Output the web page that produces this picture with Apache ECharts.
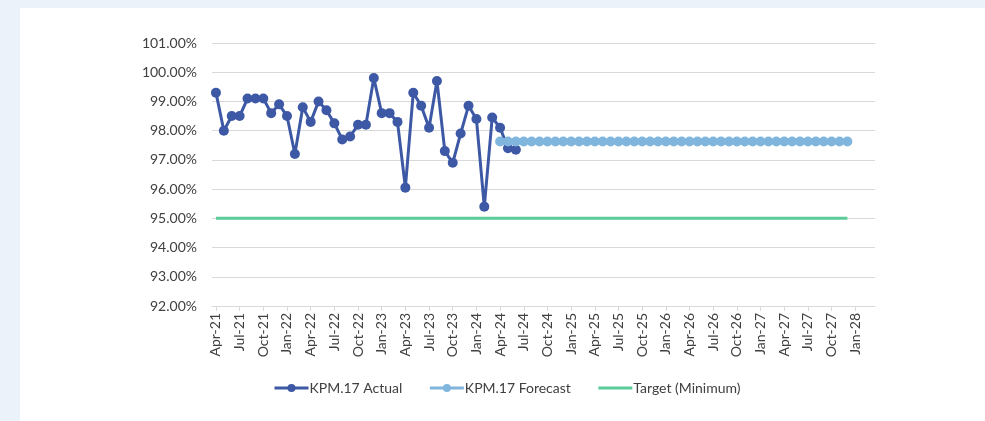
<!DOCTYPE html>
<html>
<head>
<meta charset="utf-8">
<script src="https://cdn.jsdelivr.net/npm/echarts@6/dist/echarts.min.js"></script>
<style>
  html, body { margin: 0; padding: 0; background: #ecf2fa; width: 985px; height: 421px; overflow: hidden; }
  #panel { position: absolute; left: 20px; top: 8px; width: 965px; height: 413px; background: #ffffff; }
  #chart { width: 965px; height: 413px; }
</style>
</head>
<body>
<div id="panel"><div id="chart"></div></div>
<script>
// months shown on the axis: Apr-21 .. Mar-28
var monthNames = ['Jan', 'Feb', 'Mar', 'Apr', 'May', 'Jun', 'Jul', 'Aug', 'Sep', 'Oct', 'Nov', 'Dec'];
var months = [];
for (var y = 21; y <= 28; y++) {
  for (var m = 0; m < 12; m++) {
    if (y === 21 && m < 3) continue;
    if (y === 28 && m > 2) continue;
    months.push(monthNames[m] + '-' + y);
  }
}

// KPM.17 actual, Apr-21 .. Jun-24 (%)
var actual = [
  99.30, 98.00, 98.50, 98.50, 99.10, 99.10, 99.10, 98.60, 98.90, 98.50,
  97.20, 98.80, 98.30, 99.00, 98.70, 98.25, 97.70, 97.80, 98.20, 98.20,
  99.80, 98.60, 98.60, 98.30, 96.05, 99.30, 98.85, 98.10, 99.70, 97.30,
  96.90, 97.90, 98.85, 98.40, 95.40, 98.45, 98.10, 97.40, 97.35
];

// forecast: flat level from Apr-24 to Dec-27
var forecastValue = 97.63;
var forecastStart = 'Apr-24';
var forecastEnd = 'Dec-27';

// target (minimum) from Apr-21 to Dec-27
var targetValue = 95.0;
var targetEnd = 'Dec-27';

var forecastData = months.map(function (mo, i) {
  return (i >= months.indexOf(forecastStart) && i <= months.indexOf(forecastEnd)) ? forecastValue : null;
});
var targetData = months.map(function (mo, i) {
  return i <= months.indexOf(targetEnd) ? targetValue : null;
});

var chart = echarts.init(document.getElementById('chart'));
var font = 'Lato, "Open Sans", sans-serif';

chart.setOption({
  animation: false,
  backgroundColor: '#ffffff',
  textStyle: { fontFamily: font },
  grid: { left: 192, right: 110, top: 35, bottom: 115 },
  legend: {
    left: 248,
    top: 368,
    itemGap: 26,
    itemWidth: 34,
    itemHeight: 10,
    lineStyle: { width: 3 },
    textStyle: { color: '#404040', fontSize: 14, fontFamily: font, padding: [0, 0, 0, -4] },
    data: [
      'KPM.17 Actual',
      'KPM.17 Forecast',
      { name: 'Target (Minimum)', itemStyle: { opacity: 0 } }
    ]
  },
  xAxis: {
    type: 'category',
    data: months,
    boundaryGap: true,
    axisLine: { lineStyle: { color: '#d9d9d9', width: 1 } },
    axisTick: { show: true, interval: 2, alignWithLabel: true, length: 5, lineStyle: { color: '#d9d9d9' } },
    axisLabel: { interval: 2, rotate: 90, margin: 7, color: '#404040', fontSize: 14, fontFamily: font }
  },
  yAxis: {
    type: 'value',
    min: 92,
    max: 101,
    interval: 1,
    axisLine: { show: false },
    axisTick: { show: false },
    splitLine: { lineStyle: { color: '#d9d9d9', width: 1 } },
    axisLabel: {
      margin: 15,
      color: '#404040',
      fontSize: 14,
      fontFamily: font,
      formatter: function (v) { return v.toFixed(2) + '%'; }
    }
  },
  series: [
    {
      name: 'KPM.17 Actual',
      type: 'line',
      data: actual,
      symbol: 'circle',
      symbolSize: 10,
      showAllSymbol: true,
      lineStyle: { color: '#3d58a5', width: 3 },
      itemStyle: { color: '#3d58a5' },
      z: 2
    },
    {
      name: 'KPM.17 Forecast',
      type: 'line',
      data: forecastData,
      symbol: 'circle',
      symbolSize: 10,
      showAllSymbol: true,
      lineStyle: { color: '#80b6dd', width: 3 },
      itemStyle: { color: '#80b6dd' },
      z: 3
    },
    {
      name: 'Target (Minimum)',
      type: 'line',
      data: targetData,
      symbol: 'none',
      lineStyle: { color: '#5ccb9a', width: 3 },
      itemStyle: { color: '#5ccb9a' },
      z: 1
    }
  ]
});
</script>
</body>
</html>
